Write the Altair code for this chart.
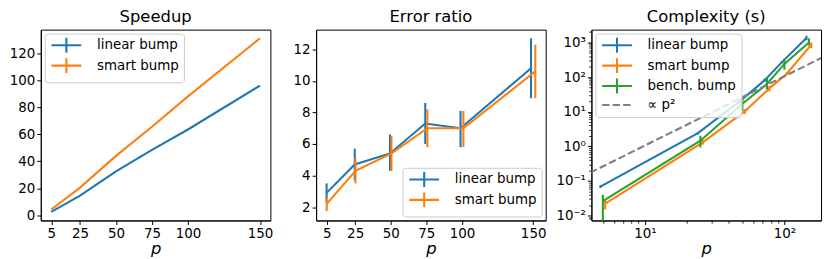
import altair as alt
import pandas as pd

# ---------------- data ----------------
p_values = [5, 25, 50, 75, 100, 150]
names2 = ["linear bump", "smart bump"]
names3 = ["linear bump", "smart bump", "bench. bump", "∝ p²"]

speedup_linear = [2.6, 14.6, 32.5, 48.5, 63.5, 96.0]
speedup_smart = [4.3, 20.5, 44.0, 65.5, 88.0, 131.0]

error_linear = [2.9, 4.7, 5.4, 7.3, 7.0, 10.8]
error_linear_lo = [2.3, 3.7, 4.3, 6.0, 5.8, 8.9]
error_linear_hi = [3.5, 5.7, 6.6, 8.6, 8.1, 12.7]
error_smart = [2.2, 4.3, 5.4, 7.0, 7.0, 10.6]
error_smart_lo = [1.75, 3.5, 4.3, 5.8, 5.8, 8.9]
error_smart_hi = [2.6, 5.1, 6.5, 8.2, 8.1, 12.3]

cx_linear = [0.068, 2.4, 20.0, 80.0, 270.0, 1350.0]
cx_linear_lo = [0.062, 2.2, 17.0, 72.0, 250.0, 1150.0]
cx_linear_hi = [0.075, 2.6, 24.0, 90.0, 290.0, 1550.0]
cx_smart = [0.022, 1.3, 10.2, 47.0, 125.0, 860.0]
cx_smart_lo = [0.015, 1.1, 8.5, 38.0, 110.0, 680.0]
cx_smart_hi = [0.030, 1.55, 12.0, 56.0, 140.0, 1000.0]
cx_bench = [0.026, 1.45, 17.0, 63.0, 240.0, 1000.0]
cx_bench_lo = [0.004, 0.93, 10.2, 45.0, 163.0, 810.0]
cx_bench_hi = [0.040, 2.0, 24.5, 100.0, 340.0, 1330.0]

x_shift_error = [0.99, 1.01]
x_shift_cx = [0.96, 1.04, 1.0]

ref_coef = 0.0105
ref_p = [1.0, 1000.0]

speed_y_ticks = [0, 20, 40, 60, 80, 100, 120]
error_y_ticks = [2, 4, 6, 8, 10, 12]
cx_x_ticks = [10, 100]
cx_y_ticks = [0.01, 0.1, 1, 10, 100, 1000]
cx_x_minor = [5, 6, 7, 8, 9, 20, 30, 40, 50, 60, 70, 80, 90]
cx_y_minor = [k * 10.0 ** e for e in range(-3, 4) for k in range(2, 10)]

# ---------------- styling ----------------
FONT = "DejaVu Sans"
BLUE, ORANGE, GREEN, GRAY = "#1f77b4", "#ff7f0e", "#2ca02c", "#7f7f7f"
PLUS = "M-3,0H3M0,-1.5V1.5"
HLINE = "M-3,0H3"
DASH = [7.4, 3.2]
W, H = 231, 192
LW = 2.1

legend_common = dict(
    title=None, offset=4, symbolSize=100, symbolStrokeWidth=LW,
    symbolOffset=10, labelOffset=24, rowPadding=-3.5, padding=5,
    fillColor="rgba(255,255,255,0.8)", strokeColor="#cccccc", cornerRadius=3,
    labelFont=FONT, labelFontSize=13.5, labelColor="black", labelLimit=300,
)


def x_axis(values):
    return alt.Axis(values=values, title="p", titleFontStyle="italic",
                    labelFlush=False, labelOverlap=False)


# ---------------- panel 1: speedup ----------------
speed_df = pd.DataFrame({
    "series": [names2[0]] * len(p_values) + [names2[1]] * len(p_values),
    "p": p_values + p_values,
    "value": speedup_linear + speedup_smart,
})
x1 = alt.X("p:Q", scale=alt.Scale(domain=[-2.25, 157.25], nice=False, zero=False),
           axis=x_axis(p_values))
y1 = alt.Y("value:Q", scale=alt.Scale(domain=[-3.8, 137.4], nice=False, zero=False),
           axis=alt.Axis(values=speed_y_ticks, title=None))
panel1 = alt.Chart(speed_df).mark_line(strokeWidth=LW).encode(
    x=x1, y=y1,
    color=alt.Color("series:N", scale=alt.Scale(domain=names2, range=[BLUE, ORANGE]),
                    legend=alt.Legend(orient="top-left", symbolType=PLUS, **legend_common)),
).properties(width=W, height=H, title="Speedup")

# ---------------- panel 2: error ratio ----------------
err_df = pd.DataFrame({
    "series": [names2[0]] * len(p_values) + [names2[1]] * len(p_values),
    "x": [v * x_shift_error[0] for v in p_values] + [v * x_shift_error[1] for v in p_values],
    "value": error_linear + error_smart,
    "lo": error_linear_lo + error_smart_lo,
    "hi": error_linear_hi + error_smart_hi,
})
xs2 = alt.Scale(domain=[-2.4, 158.8], nice=False, zero=False)
ys2 = alt.Scale(domain=[1.15, 13.25], nice=False, zero=False)
cs2 = alt.Scale(domain=names2, range=[BLUE, ORANGE])
ax2x = x_axis(p_values)
ax2y = alt.Axis(values=error_y_ticks, title=None)
legend2 = alt.Legend(orient="bottom-right", symbolType=PLUS, **legend_common)
layers2 = []
for i, name in enumerate(names2):
    base = alt.Chart(err_df).transform_filter(alt.datum.series == name)
    line = base.mark_line(strokeWidth=LW).encode(
        x=alt.X("x:Q", scale=xs2, axis=ax2x),
        y=alt.Y("value:Q", scale=ys2, axis=ax2y),
        color=alt.Color("series:N", scale=cs2, legend=legend2),
    )
    rules = base.mark_rule(strokeWidth=LW).encode(
        x=alt.X("x:Q", scale=xs2, axis=ax2x),
        y=alt.Y("lo:Q", scale=ys2, axis=ax2y),
        y2="hi:Q",
        color=alt.Color("series:N", scale=cs2, legend=legend2),
    )
    layers2 += [line, rules]
panel2 = alt.layer(*layers2).properties(width=W, height=H, title="Error ratio")

# ---------------- panel 3: complexity ----------------
cx_vals = [cx_linear, cx_smart, cx_bench]
cx_lo = [cx_linear_lo, cx_smart_lo, cx_bench_lo]
cx_hi = [cx_linear_hi, cx_smart_hi, cx_bench_hi]
rows = []
for k in range(3):
    for j, pv in enumerate(p_values):
        rows.append({"series": names3[k], "x": pv * x_shift_cx[k], "value": cx_vals[k][j],
                     "lo": cx_lo[k][j], "hi": cx_hi[k][j]})
cx_df = pd.DataFrame(rows)
ref_df = pd.DataFrame({"series": [names3[3]] * len(ref_p), "x": ref_p,
                       "value": [ref_coef * v ** 2 for v in ref_p]})

xs3 = alt.Scale(type="log", domain=[4.14, 183], nice=False)
ys3 = alt.Scale(type="log", domain=[0.0072, 2340], nice=False)
cs3 = alt.Scale(domain=names3, range=[BLUE, ORANGE, GREEN, GRAY])
colors3 = [BLUE, ORANGE, GREEN]

major_x = alt.Axis(values=cx_x_ticks, title="p", titleFontStyle="italic", orient="bottom",
                   labelFlush=False, labelOverlap=False,
                   labelExpr="'10' + ['⁰','¹','²','³'][round(log(datum.value)/LN10)]")
major_y = alt.Axis(values=cx_y_ticks, title=None, orient="left", labelOverlap=False,
                   labelExpr="'10' + ['⁻³','⁻²','⁻¹','⁰','¹','²','³'][round(log(datum.value)/LN10) + 3]")
minor_x = alt.Axis(values=cx_x_minor, labels=False, tickSize=2.8, tickWidth=0.8,
                   domain=False, grid=False, title=None, orient="bottom")
minor_y = alt.Axis(values=cx_y_minor, labels=False, tickSize=2.8, tickWidth=0.8,
                   domain=False, grid=False, title=None, orient="left")

layers3 = []
for k in range(3):
    base = alt.Chart(cx_df).transform_filter(alt.datum.series == names3[k])
    first = k == 0
    line = base.mark_line(strokeWidth=LW, color=colors3[k], clip=True).encode(
        x=alt.X("x:Q", scale=xs3, axis=major_x if first else None),
        y=alt.Y("value:Q", scale=ys3, axis=major_y if first else None),
    )
    rules = base.mark_rule(strokeWidth=LW, color=colors3[k], clip=True).encode(
        x=alt.X("x:Q", scale=xs3, axis=None),
        y=alt.Y("lo:Q", scale=ys3, axis=None),
        y2="hi:Q",
    )
    layers3 += [line, rules]
ref_line = alt.Chart(ref_df).mark_line(strokeWidth=LW, color=GRAY, strokeDash=DASH, clip=True).encode(
    x=alt.X("x:Q", scale=xs3, axis=minor_x),
    y=alt.Y("value:Q", scale=ys3, axis=minor_y),
)
legend3 = alt.Legend(orient="top-left", **legend_common)
legend_layer = alt.Chart(cx_df).transform_filter("false").mark_point(
    filled=False, opacity=1, strokeWidth=LW).encode(
    x=alt.X("x:Q", scale=xs3, axis=None),
    y=alt.Y("value:Q", scale=ys3, axis=None),
    color=alt.Color("series:N", scale=cs3, legend=legend3),
    shape=alt.Shape("series:N", scale=alt.Scale(domain=names3, range=[PLUS, PLUS, PLUS, HLINE]),
                    legend=legend3),
    strokeDash=alt.StrokeDash("series:N",
                              scale=alt.Scale(domain=names3, range=[[1, 0], [1, 0], [1, 0], DASH]),
                              legend=legend3),
)
panel3 = alt.layer(*layers3, ref_line, legend_layer).resolve_axis(
    x="independent", y="independent").properties(width=W, height=H, title="Complexity (s)")

chart = alt.hconcat(panel1, panel2, panel3, spacing=46, bounds="flush").resolve_scale(
    color="independent", shape="independent", strokeDash="independent").resolve_legend(
    color="independent", shape="independent", strokeDash="independent").properties(
    padding={"left": 0, "right": 0, "top": 0, "bottom": 0}
).configure_view(stroke="black", strokeWidth=1).configure_axis(
    labelFont=FONT, labelFontSize=13.5, labelColor="black", tickColor="black", tickSize=4,
    tickWidth=1, domainColor="black", domainWidth=1, grid=False, labelPadding=2,
    titleFont=FONT, titleFontSize=16.5, titleColor="black", titleFontWeight="normal",
    titlePadding=1,
).configure_title(font=FONT, fontSize=16.5, fontWeight="normal", color="black", offset=0,
                  anchor="middle")

chart.save("out.html", embed_options={"renderer": "svg", "actions": False})
